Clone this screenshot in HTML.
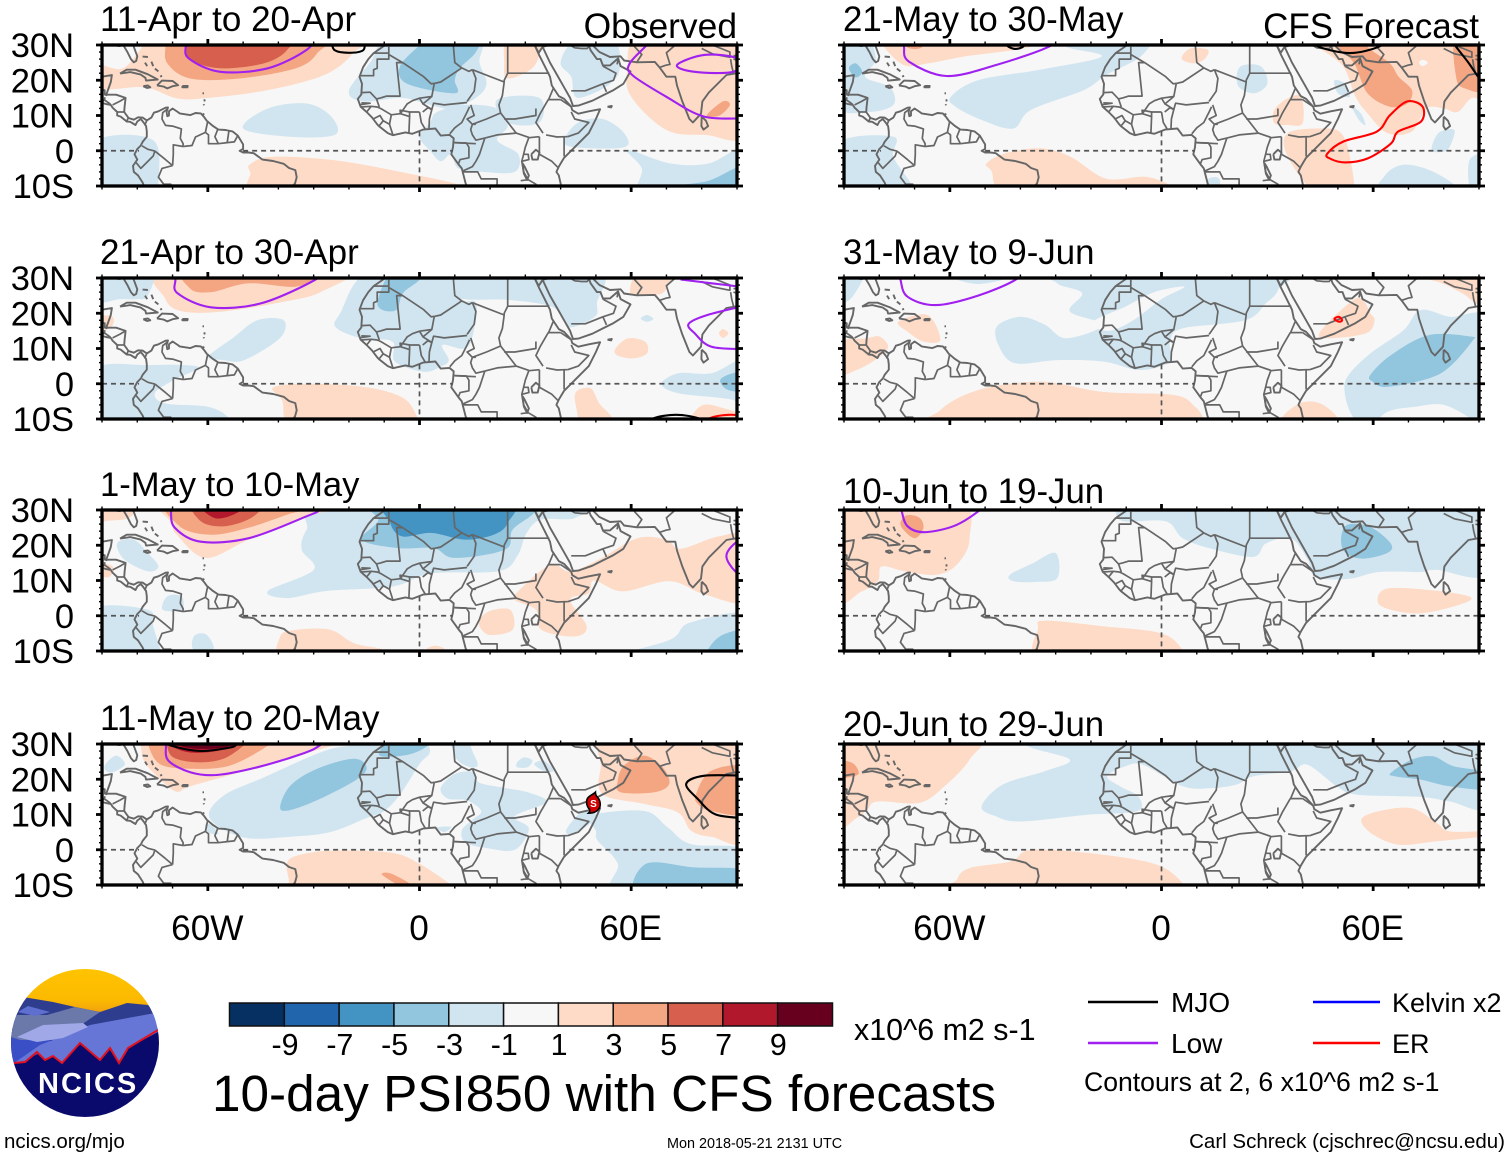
<!DOCTYPE html>
<html lang="en">
<head>
<meta charset="utf-8">
<title>10-day PSI850 with CFS forecasts</title>
<style>
html,body{margin:0;padding:0;background:#fff;}
svg{display:block;font-family:"Liberation Sans",sans-serif;}
text{fill:#000;}
</style>
</head>
<body>
<svg id="fig" xmlns="http://www.w3.org/2000/svg" width="1510" height="1158" viewBox="0 0 1510 1158">
  <rect width="1510" height="1158" fill="#fff"/>
  <g id="panels"></g>

  <g font-size="35">
    <text x="100" y="31">11-Apr to 20-Apr</text>
    <text x="100" y="264">21-Apr to 30-Apr</text>
    <text x="100" y="496" font-size="34.6">1-May to 10-May</text>
    <text x="100" y="730">11-May to 20-May</text>
    <text x="843" y="31" font-size="34.8">21-May to 30-May</text>
    <text x="843" y="264" font-size="34.8">31-May to 9-Jun</text>
    <text x="843" y="503" font-size="34.8">10-Jun to 19-Jun</text>
    <text x="843" y="736" font-size="34.8">20-Jun to 29-Jun</text>
    <text x="737" y="38" text-anchor="end" font-size="35.4">Observed</text>
    <text x="1479" y="38" text-anchor="end" font-size="35">CFS Forecast</text>
  </g>

  <g id="colorbar"></g>
  <text x="854" y="1040" font-size="30.4">x10^6 m2 s-1</text>
  <text x="212" y="1111" font-size="51.3">10-day PSI850 with CFS forecasts</text>

  <g>
    <line x1="1088" y1="1002" x2="1158" y2="1002" stroke="#000" stroke-width="2.6"/>
    <text x="1171" y="1012" font-size="28">MJO</text>
    <line x1="1313" y1="1002" x2="1380" y2="1002" stroke="#0000ff" stroke-width="2.6"/>
    <text x="1392" y="1012" font-size="27">Kelvin x2</text>
    <line x1="1088" y1="1043" x2="1158" y2="1043" stroke="#a020f0" stroke-width="2.6"/>
    <text x="1171" y="1053" font-size="28">Low</text>
    <line x1="1313" y1="1043" x2="1380" y2="1043" stroke="#ff0000" stroke-width="2.6"/>
    <text x="1392" y="1053" font-size="27">ER</text>
    <text x="1084" y="1091" font-size="26.6">Contours at 2, 6 x10^6 m2 s-1</text>
  </g>

  <g>
    <defs>
      <clipPath id="logoClip"><circle cx="85" cy="1043" r="74"/></clipPath>
      <linearGradient id="sunGrad" x1="0" y1="0" x2="0" y2="1">
        <stop offset="0" stop-color="#ffc400"/><stop offset="0.7" stop-color="#fbb900"/><stop offset="1" stop-color="#ef9f10"/>
      </linearGradient>
    </defs>
    <g clip-path="url(#logoClip)">
      <rect x="10" y="968" width="150" height="46" fill="url(#sunGrad)"/>
      <polygon fill="#2f3d8e" points="5,1030 23,997 53,1002 75,1007 100,1012 127,1003 148,1005 165,1020 90,1030 40,1030"/>
      <rect x="10" y="1028" width="150" height="92" fill="#0a0a6c"/>
      <polygon fill="#3a4ec6" points="8,1030 40,1035 60,1045 14,1064 8,1064"/>
      <polygon fill="#6a78aa" points="8,1036 15,1015 47,1015 75,1007 100,1012 81,1025 62,1040 20,1040"/>
      <polygon fill="#5f6fd0" points="18,1012 28,1006 50,1012 35,1016"/>
      <polygon fill="#6676d6" points="14,1063 40,1045 90,1025 155,1013 165,1030 158,1032 128,1048 119,1063 110,1048 100,1060 80,1043 62,1063 53,1056 45,1060 37,1052 25,1062"/>
      <polygon fill="#a0a8e8" points="17,1037 43,1025 83,1023 88,1027 63,1038 37,1042"/>
      <polyline fill="none" stroke="#e3101e" stroke-width="2" points="14,1063 25,1062 37,1052 45,1060 53,1056 62,1063 80,1043 100,1060 110,1048 119,1063 128,1048 158,1030"/>
    </g>
    <text x="38" y="1093" font-size="29" font-weight="bold" letter-spacing="2" style="fill:#fff">NCICS</text>
  </g>

  <text x="4" y="1148" font-size="20.5">ncics.org/mjo</text>
  <text x="667" y="1148" font-size="14.4">Mon 2018-05-21 2131 UTC</text>
  <text x="1505" y="1148" font-size="20.5" text-anchor="end">Carl Schreck (cjschrec@ncsu.edu)</text>
</svg>

<script>
/* ---------- colour scale ---------- */
const colorbarTicks = [-9,-7,-5,-3,-1,1,3,5,7,9];
const colorbarLevels = [-10,-8,-6,-4,-2,0,2,4,6,8,10];

/* ---------- shaded anomaly regions: [level, [[lon,lat],...]] ---------- */
const shadeApr11 = [
 [2,[[-78,33],[-78,30.5],[-84,23.4],[-91,24],[-91,17.7],[-78,18],[-69,14.9],[-61,14.9],[-43,17.2],[-27,21.5],[-19,27.6],[-18.5,33]]],
 [4,[[-72,33],[-72,30],[-71.5,24.8],[-65,20.5],[-51,20.5],[-35,23.4],[-29,27.7],[-28,33]]],
 [6,[[-66.7,33],[-66.7,30],[-65,25.8],[-56.5,23.4],[-44,24.8],[-37.5,28.6],[-37.5,33]]],
 [-2,[[-8,32],[-14,25],[-20,17],[-16,14],[-5,15],[3,13],[9,12],[16,15],[19,19],[17,25],[16,32]]],
 [-2,[[3,8],[0,4],[3,0],[6,-3],[9,-1],[11,-5],[18,-6],[27,-6],[28,-1],[22,3],[25,7],[22,12],[13,13],[5,11]]],
 [-2,[[22,14.5],[34,15],[34,8],[25,8]]],
 [-2,[[40,25],[44,31],[55,32],[56,21],[45,15],[43,21]]],
 [-2,[[41,3],[45,8],[52,9],[58,5],[58,1],[44,1]]],
 [-2,[[-50,6.3],[-43,12],[-32,13.4],[-25,9.7],[-24,4.5],[-37,4]]],
 [-2,[[-92,2.5],[-75.5,3],[-74,-10],[-74,-13],[-92,-13]]],
 [-2,[[59,0.2],[71,-3.6],[82,-3.6],[93,1],[93,-13],[64,-13],[63,-5]]],
 [-4,[[0.5,32],[0.5,30.5],[-5.5,24],[-3.5,19],[10,16.3],[10,20],[11.4,23.4],[16,28],[16,32]]],
 [-4,[[71,-10.5],[82,-8.5],[93,-4],[93,-13]]],
 [2,[[25,32],[34,32],[32.5,24],[25,20.5],[24,25]]],
 [2,[[63,32],[59,23],[60,15.3],[70,5.9],[81,4.5],[93,5],[93,32]]],
 [4,[[81.4,10],[86,14],[88,13],[85,10]]],
 [2,[[-47.7,-3.6],[-41.5,-1.7],[-24,-2.7],[-3.5,-6.4],[11.4,-9.8],[12,-13],[-43,-13],[-48,-6]]]
];
const shadeApr21 = [
 [2,[[-72,33],[-72,24],[-67,20.5],[-55.6,20.5],[-40,23],[-28,26],[-21,33]]],
 [4,[[-65,33],[-65,27],[-59,26],[-48.5,28.5],[-35.5,27.5],[-29.6,30],[-29,33]]],
 [2,[[-41.4,-1],[-31,0],[-15,-1],[-4.7,-4],[-0.6,-9.5],[0,-13],[-34,-13],[-39,-4.6]]],
 [2,[[44.4,-2.3],[48.5,-1.3],[51,-5.6],[54.4,-9.4],[54.4,-13],[46.7,-13],[44.4,-6.5]]],
 [2,[[77,-9.4],[80.5,-6],[86.4,-7],[93,-9.4],[93,-13],[76,-13]]],
 [2,[[55.6,10],[59.2,12.9],[64,11.9],[64.5,8.6],[60.4,7.2],[56,8.1]]],
 [2,[[59.8,25.7],[62.7,33],[71.6,33],[69.8,26.6],[66.3,25.2]]],
 [2,[[84.9,14.3],[86,15.5],[87.6,14.3],[86,13]]],
 [2,[[-92,19],[-87,19],[-87.5,16],[-92,15]]],
 [-2,[[-92,33],[-76,33],[-77,25],[-80,24],[-85,24],[-92,23.5]]],
 [-2,[[-59.8,7.7],[-53,12.9],[-46,18],[-38.5,18],[-39.6,12.9],[-49.7,6.7],[-55.6,6.7]]],
 [-2,[[-92,3.9],[-77,5.3],[-62.7,4.8],[-69.8,1],[-75,-2.7],[-72,-5.6],[-60,-6.5],[-54.4,-9.4],[-54.4,-13],[-92,-13]]],
 [-2,[[-14,32],[-22.5,20],[-23.7,16],[-16.6,12.9],[-7.7,12],[-7,6.3],[1.2,3.4],[5.9,4.8],[8.3,6.7],[6.5,11],[13,10],[15.4,15],[16,23],[11.8,23.8],[10.6,32]]],
 [-2,[[10,33],[10,24.7],[25,23.8],[36,22.3],[40,20],[42.6,16],[49.7,19],[50.3,22.8],[49.7,33]]],
 [-2,[[68.6,0],[73.4,3],[82.8,3],[93,6.7],[93,-8],[88.8,-4.6],[73.4,-2.7]]],
 [-2,[[62.7,18.5],[64.5,19.5],[66.3,18.4],[64.5,17.6]]],
 [-4,[[-7.7,32],[-11.8,23.8],[-10.6,21],[-6.5,21],[-4.7,25.7],[0,29.5],[1,33]]],
 [-4,[[85.2,1],[88.8,3],[93,3],[93,-1.8],[87.6,-1.8]]]
];
const shadeMay1 = [
 [-2,[[-25,33],[-32,24.4],[-33.4,18.8],[-30,13],[-43,7],[-37.5,5],[-26.6,7],[-7.6,8.3],[3.3,12],[22.3,12.6],[27.7,16.9],[30.4,23.5],[34.5,27.3],[44,27.7],[45,33]]],
 [-2,[[-85.7,20.6],[-81,21.6],[-77,17.8],[-74,14],[-77,12.6],[-83.7,16]]],
 [-2,[[-72.8,1.7],[-71.5,5.5],[-67.4,5.5],[-67.4,1.7]]],
 [-2,[[-92,2.2],[-77,1.7],[-75.5,-3],[-73,-13],[-78,-13],[-92,-8]]],
 [-2,[[-64,-5.9],[-61.2,-5],[-59.2,-6.8],[-58.6,-9.7],[-64,-9.7]]],
 [-2,[[53,-13],[71,-6.8],[76.6,-2],[93,0.3],[93,-13]]],
 [-4,[[82,-9.2],[86,-5.4],[93,-4.5],[93,-13],[81,-13]]],
 [-4,[[-12.4,33],[-11.7,27],[-16.4,21.6],[-6.2,19.2],[4,19.2],[10,16.4],[24.3,18.8],[26.4,24.4],[32.5,29.2],[33,33]]],
 [-6,[[-8.3,33],[-8.3,26.3],[-4.9,22.5],[3.3,23.5],[12.8,21.6],[21,23],[25,26.3],[25,33]]],
 [2,[[-71,33],[-70,26],[-68.8,23],[-60.6,16.4],[-48.4,21.6],[-32,28.2],[-25.3,30],[-24,33]]],
 [4,[[-70,33],[-68,25.4],[-59,23],[-48.4,25],[-37.5,28.7],[-33.4,30],[-33,33]]],
 [6,[[-64,33],[-62,26.8],[-55,25.4],[-47,28.2],[-45,33]]],
 [8,[[-63,33],[-58,27.7],[-51,29.6],[-50,33]]],
 [2,[[-92,33],[-80,33],[-82,28],[-88,27],[-92,27]]],
 [2,[[-92,15],[-87,14],[-88,11],[-92,12]]],
 [2,[[28.4,7.4],[37.2,14.5],[42.7,12.6],[50.8,15.9],[61.7,22],[70,21.6],[74,19],[84.8,22.5],[93,22],[93,4.5],[81,6],[71,9.8],[57.6,6.9],[49.5,10],[48,6.4],[42.7,4.5],[47.4,-3],[44,-5.9],[34.5,-4],[33,1.7],[27,4.5]]],
 [2,[[16.8,-2],[19.6,1.2],[25.7,1.7],[26.4,-4],[19.6,-5.4]]],
 [2,[[-39.5,-5.9],[-34.8,-4],[-25.3,-4],[-18.5,-7.8],[-10,-9.7],[-8,-13],[-37.5,-13]]],
 [2,[[2,-9.7],[4.6,-8.5],[7.3,-9.8],[5,-13]]]
];
const shadeMay11 = [
 [-2,[[-59.5,9],[-55.6,15.3],[-44.2,20.5],[-27,28],[-16.8,30],[-5,33],[0,33],[3,28],[0,24.3],[-5.4,15.8],[-10,11],[-15,9],[-25.3,5],[-36.6,3.7],[-50,3.5]]],
 [-2,[[8.8,33],[10.2,26.2],[14,23.5],[16.5,24],[15,28],[13,33]]],
 [-2,[[6,17.5],[10,21.5],[15.4,22],[17,19],[24.5,17.5],[31,16.2],[36,13.5],[27,9.5],[31,6],[27,0],[19,0.5],[13,2],[12,5.5],[15,8.5],[17.5,11],[13.5,14],[8,14.5]]],
 [-2,[[5,6.3],[9,6.5],[7,5]]],
 [-2,[[27.7,24.8],[29.7,26.2],[32,25.3],[30.6,23.4],[27.7,23.4]]],
 [-2,[[32.5,24.3],[35.3,25.3],[38,22.4],[35.3,22.4]]],
 [-2,[[41.5,5.4],[43.8,8.7],[46.7,11],[50,10],[47.6,6.8],[42.9,4.5]]],
 [-2,[[48.6,9.7],[63.7,11],[70.4,6.3],[77,1.6],[93,-0.3],[93,-13],[56.2,-13],[56.2,-4],[50.5,2.6],[50,5.4]]],
 [-4,[[62.8,-13],[64.2,-4],[78,-5],[93,-6],[93,-13]]],
 [-4,[[-39.5,11.8],[-36.6,18.2],[-29,23],[-18.7,25.8],[-15,23.4],[-17.7,20],[-27,15],[-35.7,11.5]]],
 [-4,[[-11.5,27],[-4,26.8],[2,29.3],[4,33],[-6,33]]],
 [-2,[[-89,24.3],[-86,26.7],[-83.5,24.3],[-86.8,22],[-89,22.5]]],
 [-2,[[-60.8,7.3],[-59,7],[-57,4.5],[-60,5]]],
 [2,[[-79,33],[-79,30],[-78,25],[-74,20.5],[-69,16.5],[-65,18],[-52.7,21.5],[-40.4,25.3],[-23.4,30],[-21.5,33]]],
 [4,[[-77,33],[-77,30],[-73.6,24.3],[-65,23],[-53.7,23.9],[-42.3,30],[-41,33]]],
 [6,[[-71.7,33],[-71.7,30],[-69.8,26.2],[-63,24.8],[-55.6,25.8],[-49.4,30],[-48,33]]],
 [8,[[-71,33],[-70.3,29.5],[-65,27.6],[-57.4,28],[-51.8,30],[-50,33]]],
 [10,[[-69,33],[-68,29.6],[-61.3,28.6],[-53.7,29.5],[-53,33]]],
 [2,[[-37.6,-4],[-34.8,-1.7],[-25.3,-0.3],[-8.2,-0.8],[0,-4],[9.5,-10.5],[9.5,-13],[-37,-13],[-37,-9]]],
 [4,[[-10.6,-7.1],[-8.2,-6.7],[-2.6,-9.8],[-5.4,-10.2]]],
 [2,[[54.3,33],[51.4,23.4],[51.9,15.8],[63.7,13],[73.2,10.6],[77,5.4],[82.7,3.7],[93,3.5],[93,33]]],
 [4,[[56.2,19.6],[58,23.9],[63.7,26.7],[68.9,23.4],[70.8,18.7],[66.6,16.3],[57,16.3]]],
 [4,[[78.4,15.8],[82.7,22.4],[93,23],[93,10.6],[82.7,11],[78.9,13]]]
];
const shadeMay21 = [
 [-2,[[-92,33],[-84,33],[-81,26],[-84,21],[-77,18],[-76,13],[-83,11],[-92,13]]],
 [-4,[[-88.6,23.4],[-86.7,24.8],[-84.8,22.4],[-86.7,20.8]]],
 [-2,[[-59.7,15.3],[-52,20],[-34.5,23],[-17,26.7],[-27,29.5],[-27,33],[-4.4,33],[-5.6,27],[-15.7,21.5],[-22,17.2],[-37,11.6],[-42,6.3],[-50.9,8.7],[-58.4,12.5]]],
 [-2,[[-92,2],[-76,4],[-76,-1.7],[-71,-9.3],[-70,-13],[-92,-13]]],
 [-2,[[21.4,22],[23.2,24.3],[28.3,23.9],[30,19],[26.4,16.3],[22,18]]],
 [-2,[[49,20],[52,19],[53.4,15.3],[50,16.3]]],
 [-2,[[54,12.5],[56,8.7],[57.8,7.3],[56.5,10.6]]],
 [-2,[[63.4,-6.9],[68.5,-4],[76,-5.5],[83.5,-10],[84,-13],[62,-13]]],
 [-2,[[76.6,0.2],[78.5,5],[83,5.9],[81.7,1.1],[79.8,-0.3]]],
 [-2,[[87.3,-2.7],[93,-1.7],[93,-13],[88,-13]]],
 [-2,[[13,-8.3],[16.3,-7.9],[16.3,-13],[13.2,-13]]],
 [2,[[-79,33],[-79,30],[-73,24.3],[-66,24.8],[-56,26.7],[-37,29.5],[-36,33]]],
 [4,[[-74,33],[-72,29.3],[-68,29.3],[-67,33]]],
 [2,[[5.7,26.2],[8.2,29],[13.2,28.6],[12,25.8],[8.8,24.8]]],
 [2,[[44,33],[44.6,29.5],[51.5,23.9],[55,15.3],[58.4,10.6],[64,5],[71,5.5],[75,12],[80,12],[84,11],[88,15],[93,15],[93,33]]],
 [2,[[32,11.6],[35.8,14.9],[39.6,15.3],[40,7.8],[35.8,7.3],[32,7.8]]],
 [2,[[35.8,5],[45.9,6.3],[50.9,5],[53.4,-1.7],[54,-13],[44.6,-13],[35.8,-1.7]]],
 [4,[[50,33],[50,29.5],[54.6,24.8],[58.4,16.3],[64.7,12.5],[69.7,13.4],[71,17.2],[67.2,21],[64.7,24.8],[58.4,29.5],[58,33]]],
 [4,[[83.5,21],[86,17.7],[93,17.7],[93,33],[83.5,33]]],
 [0,[[73,25],[74,25.8],[75.5,25],[74,24]]],
 [2,[[-49.6,-3.6],[-44.6,-0.8],[-34.5,0.7],[-25.8,-1.7],[-15.7,-7.9],[-4.4,-7.4],[3.1,-10.2],[4,-13],[-41,-13],[-48.4,-5.5]]]
];
const shadeMay31 = [
 [-2,[[-92,33],[-84,33],[-87.6,24.7],[-92,23.3]]],
 [-2,[[-60,31],[-52,28.3],[-41.4,31]]],
 [-2,[[-46.7,16.2],[-40,19],[-33,16.7],[-27,12.9],[-16.6,16.7],[-26,20.5],[-22.5,25.7],[-29.6,28.5],[-29,33],[33,33],[33,26.6],[29.6,22.8],[23.7,18],[6,15.7],[2.4,12],[2.4,6.3],[-6,3.9],[-16.6,6.3],[-29.6,6.7],[-41.4,5.8],[-46,10.5]]],
 [0,[[-19.5,17.5],[-10,22],[-2,26],[6.5,27.5],[0,24],[-8,18],[-15,15]]],
 [-2,[[52.7,2],[59.2,8.6],[68.6,15.2],[73.4,20.9],[81.7,19],[93,17.6],[93,-13],[88,-10],[80,-6],[72,-6.5],[64,-8],[58,-13],[54,-9],[52,-3]]],
 [-4,[[59.2,2.5],[65,8.1],[75.7,13.8],[87.6,13.4],[88,12],[81.7,4.8],[75.7,1.5],[64,-0.9],[59.8,0.6]]],
 [2,[[-92,11.5],[-83.5,12.9],[-80,13.4],[-77.5,10.5],[-80.5,7.2],[-86.4,3.9],[-92,2.7]]],
 [2,[[-74.6,17.6],[-66.3,19.5],[-62.7,12.4],[-67.5,12],[-72,14.8]]],
 [2,[[-62.7,-7.5],[-52,-1.8],[-34.3,0.6],[-16.6,-2.3],[3.6,-3.2],[9.5,-6.5],[11.8,-9.8],[12,-13],[-62.7,-13]]],
 [2,[[45,14.8],[54.4,23.8],[57.4,23.3],[59.2,20],[60.4,18],[58,14.3],[47.3,12.9]]],
 [2,[[34.3,-9.4],[39.6,-5.4],[45,-5.6],[49.7,-9.4],[50,-13],[34,-13]]],
 [2,[[67.5,31],[78,29],[85.2,25.7],[93,21],[93,33],[68,33]]]
];
const shadeJun10 = [
 [2,[[-92,33],[-58,33],[-54.4,22],[-58,14.5],[-64,11.6],[-72.8,12.6],[-79.3,14],[-80.4,9.8],[-85,6.9],[-92,5]]],
 [4,[[-74,26.3],[-72.2,28.5],[-68.6,27.8],[-67.5,24.9],[-69.8,22],[-72.8,24]]],
 [2,[[-35,-3.5],[-33,-1.4],[-16.6,-3],[0,-5],[6,-9.7],[7,-13],[-33,-13]]],
 [2,[[61.3,3.9],[63.9,7.7],[77,7.2],[87.6,5.3],[84,3],[73.4,0.7],[65,1.7]]],
 [-2,[[-43,11.6],[-36.7,14.8],[-30,17.8],[-29.5,10.7],[-35.5,9.6],[-42,9.8]]],
 [-2,[[-13,33],[-13,29.6],[-10.7,26.8],[1.2,26.8],[6,22],[14.2,19],[26,16.7],[29.6,20.5],[36.7,22],[41.4,16],[43.8,10.9],[53.3,10.5],[61.5,12.4],[73.4,12.4],[78,13],[93,12],[93,33]]],
 [-4,[[50.9,22],[52.7,25.8],[59,25.3],[65,20.5],[64,17.8],[56.8,16.2],[52,18]]]
];
const shadeJun20 = [
 [2,[[-92,33],[-52.7,33],[-54.4,25.6],[-61.5,18],[-68.6,13.3],[-80.5,13.7],[-83.4,11.4],[-86.4,9],[-92,7.6]]],
 [4,[[-92,25],[-87.6,24.6],[-85.8,21.8],[-87.6,20.8],[-92,20.5]]],
 [2,[[-58,-8.5],[-54.4,-5.2],[-42.6,-3.3],[-36.7,0],[-16.6,-1.4],[-1.2,-4.3],[6,-9.5],[7,-13],[-58,-13]]],
 [2,[[56.6,8.5],[61.5,10.9],[71,11.8],[78,7.6],[81.7,5.2],[93,5.2],[93,4],[78,2.4],[67.5,1.4],[60,4.3]]],
 [-2,[[-51,12.3],[-45,18.5],[-33,22.3],[-26,25.6],[-37.9,29.4],[-37,33],[93,33],[93,12.3],[81.7,13.7],[73.4,15],[55.6,15.6],[49.7,18],[41.4,24.1],[36.7,22.3],[26,20.8],[21.3,18.5],[14.2,17.5],[6,18],[-5.3,24.1],[-10.7,23.5],[-15.4,20.8],[-11.8,18],[-6.5,15],[-7,10.9],[-21.3,9.9],[-40,8],[-47,9.5]]],
 [-4,[[65,21.8],[71,25.6],[77,26.5],[82.8,23.7],[93,21.8],[93,17.2],[81.7,18],[73.4,19.9],[66.3,20.8]]]
];

/* ---------- wave / low contours: [type, closed(0|1), [[lon,lat],...]] ---------- */
const contourApr11 = [
 ['low',0,[[-66.5,33],[-66.3,30],[-65.4,26.2],[-56.5,22.4],[-43,23.4],[-32,28.6],[-29,33]]],
 ['low',0,[[66,33],[64.4,30],[59.6,24.8],[60.3,21.5],[70,15.3],[80.7,9.7],[93,9.2]]],
 ['low',1,[[73,24.3],[80.7,27.2],[90,26.2],[89,22.4],[78,22.4]]],
 ['mjo',0,[[-25,31],[-24,28.5],[-20,27.8],[-16,28.5],[-15.5,31]]]
];
const contourApr21 = [
 ['low',0,[[-69.5,33],[-69.2,29.6],[-68.6,25.7],[-59.2,21.7],[-45,22.8],[-29.6,29.5],[-27,33]]],
 ['low',0,[[74,29.6],[82.8,28.5],[93,27.3]]],
 ['low',0,[[93,22.3],[81.6,19.5],[76.3,17],[78,14.3],[82.8,10.5],[93,9.8]]],
 ['mjo',0,[[64,-12],[66.3,-9.8],[72.8,-8.8],[79.3,-9.9],[81,-12]]],
 ['er',0,[[80,-12],[82.2,-9.8],[87.6,-8.8],[93,-9.2]]]
];
const contourMay1 = [
 ['low',0,[[-71,33],[-70.5,30],[-69.4,25],[-62,21],[-48.4,22],[-32,28.2],[-28.3,30],[-26,33]]],
 ['low',0,[[93,22],[89.5,20.6],[87,16.9],[89.5,12.6],[93,11]]]
];
const contourMay11 = [
 ['low',0,[[-72,33],[-71.9,29.8],[-71.2,25.3],[-65,22],[-57.5,21.2],[-46,23.4],[-32.8,27.4],[-28,29.8],[-25,33]]],
 ['mjo',0,[[-72,31],[-70.3,29.5],[-62.2,28],[-53.7,29],[-51.8,30],[-50,32]]],
 ['mjo',0,[[93,21],[80.8,21],[75.6,18.7],[78.9,14.4],[84,10],[93,8.9]]]
];
const contourMay21 = [
 ['low',0,[[-73,33],[-73,29.5],[-71.6,25.3],[-61,21.2],[-47,24.3],[-32,29.5],[-29,33]]],
 ['er',1,[[47,-0.8],[51.5,2.6],[61,5.4],[64.7,10],[69.7,14],[74,12.5],[73.5,8.2],[67,5.4],[65,2],[58.4,-2.2],[52,-3.3],[47.7,-2.2]]],
 ['mjo',0,[[42,32],[44.6,29.5],[53.4,27.7],[61.6,29.5],[64,32]]],
 ['mjo',0,[[82,32],[83.5,29.5],[87,25],[90.5,20],[93,18]]],
 ['mjo',0,[[-45,31],[-43.3,29.5],[-41.4,28.9],[-39.3,29.5],[-38,31]]]
];
const contourMay31 = [
 ['low',0,[[-74.5,33],[-74,29.6],[-72,24.7],[-64,22.3],[-52,25],[-41.4,29.5],[-39,33]]],
 ['er',1,[[49,18.4],[50.3,19],[51.2,18],[50.3,17.6]]]
];
const contourJun10 = [
 ['low',0,[[-74,33],[-73.6,29.5],[-72,25.4],[-67.5,23.7],[-59,25.4],[-52,29.6],[-49,33]]]
];
const contourJun20 = [];

/* ---------- map linework in lon/lat ---------- */
const coastLines = [
 [[-91,29.3],[-89.5,30.3],[-85,29.7],[-84,30],[-82.8,28],[-81.8,26],[-81,25.1],[-80.3,25.5],[-80,26.8],[-81,29.5],[-81.4,31]],
 [[-91,18.7],[-90.5,20.9],[-87.2,21.5],[-87.5,19.5],[-88.2,17.5],[-88.8,15.9],[-86,15.9],[-83.3,15],[-83.6,12.5],[-83.7,11],[-82.5,9.3],[-81,8.8],[-79.8,9.5],[-78.5,9.4],[-77.3,8.6],[-76,9.4],[-75.3,10.8],[-74,11.2],[-72,12.2],[-71.3,12.3],[-71.7,11],[-71.5,9.8],[-71,10],[-71,11.2],[-70,12],[-68.5,11],[-68,10.6],[-65,10.1],[-63.5,10.7],[-62,10.6],[-61,9.5],[-60.3,8.5],[-58.5,7],[-57,6],[-55,5.9],[-53,5.5],[-51.5,4.3],[-50,1.8],[-50,0.5],[-51,0],[-50,-0.5],[-48.5,-0.5],[-47,-0.7],[-44.5,-2.5],[-41.5,-2.9],[-38.5,-3.7],[-37,-4.9],[-35.2,-5.5],[-34.8,-7.5],[-35.3,-9.3],[-37,-11.2]],
 [[-91,13.9],[-89,13.3],[-87.5,13],[-87,12.2],[-85.7,11],[-85.7,10],[-84.7,9.7],[-83,8.3],[-82,8.2],[-80.5,7.3],[-80,8.3],[-79,9],[-78.2,8],[-77.5,7],[-77.3,5.5],[-77.3,4],[-78.5,2.5],[-79,1.5],[-80,0.5],[-80.8,-1],[-80,-2.5],[-81.2,-4.3],[-81,-6],[-79.8,-7],[-78.5,-9],[-77.5,-11.5]],
 [[-84.9,21.9],[-83,23],[-80.5,23],[-77,21.7],[-74.2,20.2],[-77.5,19.9],[-77.7,20.7],[-79,21.6],[-82,22.3],[-84.9,21.9]],
 [[-74.4,18.5],[-73,19.9],[-70,19.8],[-68.4,18.6],[-70,18.3],[-71.5,17.7],[-72.5,18.2],[-74.4,18.5]],
 [[-78.3,18.3],[-77,18.5],[-76.3,18],[-77.2,17.8],[-78.3,18.3]],
 [[-67.2,18.4],[-65.7,18.4],[-65.8,18],[-67.2,18],[-67.2,18.4]],
 [[-78.5,26.7],[-77,26.6]],[[-77.8,25],[-77.2,24]],[[-76,25.3],[-75.5,24]],[[-75,23.3],[-74,22.5]],[[-73.5,21],[-73,21.3]],
 [[-61.5,16.3],[-61.1,16.3]],[[-61,14.6],[-60.9,14]],[[-61.2,13.2],[-61.1,12.9]],[[-61.5,10.5],[-61,10.2]],
 [[-9.8,31],[-9.7,30],[-13,27.7],[-14.5,26],[-16,23.7],[-17,21],[-16.3,19],[-16.5,16],[-17.5,14.7],[-16.7,12.5],[-15,11],[-13.5,9.5],[-12,7.5],[-11.5,7],[-9,5],[-7.5,4.4],[-4,5.2],[-2,4.8],[1,6],[4.5,6.3],[6,4.3],[8.5,4.5],[9.7,3.5],[9.5,1],[9,-1],[11,-3.8],[12,-5],[13,-9],[13.8,-11.5]],
 [[40.5,-11.5],[39.5,-7],[38.8,-6],[39.5,-4.5],[41,-2],[44,1],[48,5],[50,9],[51.2,11.8],[48,11.2],[45,10.5],[43.3,11.5],[43,12.5],[41,14.7],[39.5,15.5],[37.5,18.5],[37,21],[35.5,24],[34,27],[32.7,29.8],[32.5,31]],
 [[32.7,29.8],[33.8,27.8],[34.9,29.5],[37,25],[39,21.5],[41,18],[42.7,15],[43.5,12.7],[45,12.8],[49,14.2],[52,15.7],[55,17.2],[57.8,19],[59.8,22.5],[57,24],[56.3,26.2],[54,24.2],[52,24.2],[51.3,26],[50.3,26],[48.5,28.5],[48,30],[48.8,30.2],[51,28],[54,26.6],[57,26.8],[58,25.6],[61.5,25.1],[66.7,25.2],[68,23.7],[70,21],[72.5,21],[73,18.5],[74.5,14],[76.5,9],[77.5,8],[79.8,10.5],[80.2,14],[82,16.5],[85,19.5],[87,21.5],[90,22],[91.8,22],[92.5,20.5],[94,18]],
 [[80,9.7],[81.2,8.5],[81.8,7],[80.5,6],[79.9,7],[80,9.7]],
 [[53.3,12.5],[54.5,12.7],[54.3,12.3],[53.3,12.5]],
 [[31.7,-1],[33,0.3],[34,-0.5],[33.5,-2.5],[32,-2.5],[31.7,-1]],
 [[29.2,-3.5],[29.6,-6.5],[30.5,-8.3],[31,-7],[29.8,-4.5],[29.2,-3.5]]
];
const borderLines = [
 [[-91,17.2],[-89.2,17.2],[-89.2,15.9],[-88.5,15.7]],[[-89.3,14.4],[-90,14]],[[-89.2,15.2],[-89.3,14.4],[-87.6,13.2]],
 [[-83.3,15],[-85,14],[-87,13]],[[-83.7,11],[-85.7,11]],[[-82.5,9.5],[-83,8.3]],[[-77.3,8.6],[-77.9,7.2]],
 [[-71.3,12],[-72.8,10.8],[-73,9],[-72,7.2],[-70,7],[-67.5,6.2],[-67.8,3.5],[-67,2],[-67,1.2]],
 [[-67,1.2],[-69.8,1.7],[-69.8,-1],[-70,-4.2]],[[-70,-4.2],[-72,-2.5],[-75,-0.1]],[[-75,-0.1],[-77,0.4],[-78.7,1.4]],
 [[-75,-0.1],[-75.5,-1.5],[-78.5,-4.5],[-79,-5],[-80.3,-3.4]],
 [[-67,1.2],[-64.5,1.5],[-63.5,3.9],[-60.7,5.2]],[[-60.7,5.2],[-60,8.5]],[[-60.7,5.2],[-59.8,4.5],[-59.8,2],[-57,2]],
 [[-57.2,6],[-58,4],[-57,2]],[[-54,5.8],[-54.5,2.3]],[[-57,2],[-54.5,2.3],[-52.5,2.5],[-51.5,4.3]],
 [[-70,-4.2],[-73,-5],[-74,-7.5],[-72.5,-9.5],[-70.5,-9.5],[-70.5,-11.5]],[[-69.5,-11],[-66,-10],[-65.3,-11.5]],
 [[-13,27.7],[-8.7,27.7]],[[-8.7,27.7],[-8.7,26],[-12,26],[-12,23.4],[-13,23],[-13,21.3],[-17,21.3]],
 [[-8.7,27.3],[-4.8,25],[-6.5,25],[-5.5,15.5],[-9.3,15.5],[-11,15],[-12.2,14.7],[-14,16.6],[-16.3,16.5]],
 [[-8.7,29.5],[-8.7,27.7]],
 [[-4.8,25],[1.2,21],[3.3,19],[4.2,19.1]],[[4.2,19.1],[6,19.5],[12,23.5]],[[12,23.5],[14,22.5],[15,23]],[[15,23],[24,19.5]],
 [[9.5,31],[10,25],[12,23.5]],[[25,31],[25,22],[24,20],[24,19.5]],[[25,22],[36.8,22]],
 [[24,19.5],[23.5,15.7],[22.5,13],[23,10.7]],
 [[4.2,19.1],[3.5,15.4],[0,14.9],[-2,14.2],[-3.5,13.3],[-5.4,10.5]],
 [[3.5,15.4],[1,13.3],[3.5,11.7]],[[0,14.9],[1,13.3]],
 [[3.5,11.7],[4,13.5],[7,13],[13.5,13.7]],[[15,23],[16,20.5],[15.5,16.9],[13.5,14]],
 [[14.5,13],[15.5,10],[13.5,9],[15,7.5],[16,7.5]],[[8.6,4.8],[10,6.5],[12,8],[13.5,11],[14.2,12.5]],
 [[2.7,6.3],[2.8,9],[3.5,11.7],[2.4,12.2],[0.9,11]],[[1.6,6.2],[0.5,8],[0,11]],[[-3,5],[-2.8,9.7],[-2.8,11],[0,11]],
 [[-7.5,4.4],[-8.5,7.5],[-8,10.2],[-5.4,10.5],[-2.8,9.7]],[[-5.4,10.5],[-5.5,11.5],[-2.8,11]],
 [[-8,10.2],[-11,12],[-12,12.4],[-13.7,12.6],[-15,11]],[[-16.7,12.4],[-13.7,12.6]],[[-12.2,14.7],[-11.4,12.4]],
 [[-16.5,13.6],[-14,13.5],[-16.7,13.1]],
 [[-13,9.1],[-11.2,10],[-10.3,8.5],[-11.5,7]],[[-10.3,8.5],[-8.5,7.5]],
 [[15,7.5],[19,9],[23,10.7],[27.4,5],[22,4.5],[18.5,3.6],[16,3],[15,4.5],[14.5,6],[15,7.5]],
 [[24,9],[27,9],[33,10],[33,12]],[[36.5,14.3],[38,17.9]],[[36.5,14.5],[34.2,10.5],[33,8],[35,5]],[[40,14.5],[43,12.5]],[[36.5,14.5],[40,14.5]],
 [[35.9,4.5],[39,3.9],[41,4],[42,4]],[[42,4],[45,5],[48,8],[44,9],[43,11]],[[41,4],[41,-1.6]],
 [[34,4],[34,1],[34,-1]],[[34,-1],[37.5,-3],[39.2,-4.7]],
 [[18.5,3.6],[17,-1],[16,-3],[15,-4.5],[12.2,-5.8]],[[31,3.8],[30,1],[29.5,-1],[29,-3],[29.5,-6],[30.8,-8.2]],
 [[27.4,5],[31,3.8]],[[31,3.7],[34,4]],[[9.8,2.3],[13.3,2.2],[14,1],[14,-2],[11.5,-2.5],[11,-3.8]],[[9.8,2.3],[16,2]],
 [[12.2,-6],[16.5,-6],[17.5,-8],[22,-8],[22,-11.5]],[[28.7,-8.5],[30.8,-8.2],[33,-9.5],[34,-11.5]],[[22,-11],[24,-11],[25,-12]],
 [[29.5,-1],[30.8,-1],[31,-2.5],[29,-3]],
 [[43,17],[47,17],[52,19],[55,20],[55.7,22],[52,24]],[[52,19],[53,16.7]],
 [[61.5,25],[63,27.3],[61,29.5],[60.9,31]],[[68.2,23.7],[70,24.3],[71,24.5],[70,27.8],[72.5,30],[74,31]],
 [[80,29],[83,27.5],[88,26.5],[88,28],[83,30],[80,31]],[[89,27],[92,27],[92,28]],
 [[88.2,26],[88.5,24],[89,22]],[[89,26],[92,25],[91.5,23],[92.3,20.8]],[[92,25],[94,25],[97,28]],
 [[48.5,30],[47.5,29],[46,29],[44,29.2],[41,31]],[[35,29.5],[37,30],[38,31]],[[56.3,26],[56,24.5]]
];
const equatorOceanSegments = [[-90,-79.5],[-50,9.5],[42.5,90]];
const lonMajorTicks = [-60,0,60];
const lonTickStep = 10;
const latTickStep = 2;
const latMajorStep = 10;
const yTickLabels = ['30N','20N','10N','0','10S'];
const yTickValues = [30,20,10,0,-10];
const xTickLabels = ['60W','0','60E'];
const cycloneLon = 49.3;
const cycloneLat = 13.2;

/* ---------- panel layout ---------- */
const panelOrder = ['apr-11','apr-21','may-1','may-11','may-21','may-31','jun-10','jun-20'];
const panelShades = [shadeApr11,shadeApr21,shadeMay1,shadeMay11,shadeMay21,shadeMay31,shadeJun10,shadeJun20];
const panelContours = [contourApr11,contourApr21,contourMay1,contourMay11,contourMay21,contourMay31,contourJun10,contourJun20];

const NS = 'http://www.w3.org/2000/svg';
const PW = 635, PH = 141;
const panelLeft = [102,102,102,102,844,844,844,844];
const panelTop = [45,278,510,744,45,278,510,744];
const lonX = lon => (lon + 90) * PW / 180;
const latY = lat => (30 - lat) * PH / 40;

function levelColor(v){
  if (v >= 10) return '#67001f';
  if (v >= 8) return '#b2182b';
  if (v >= 6) return '#d6604d';
  if (v >= 4) return '#f4a582';
  if (v >= 2) return '#fddbc7';
  if (v >= 0) return '#f7f7f7';
  if (v >= -2) return '#d1e5f0';
  if (v >= -4) return '#92c5de';
  if (v >= -6) return '#4393c3';
  if (v >= -8) return '#2166ac';
  return '#053061';
}
const contourColor = {mjo:'#000000', low:'#a020f0', er:'#ff0000', kelvin:'#0000ff'};

function mk(tag, parent, attrs){
  const el = document.createElementNS(NS, tag);
  for (const k in attrs) el.setAttribute(k, attrs[k]);
  parent.appendChild(el);
  return el;
}
function smoothPath(pts, closed){
  const P = pts.map(p => [lonX(p[0]), latY(p[1])]);
  const n = P.length;
  const at = i => closed ? P[(i + n) % n] : P[Math.max(0, Math.min(n - 1, i))];
  let d = 'M' + P[0][0].toFixed(1) + ' ' + P[0][1].toFixed(1);
  const last = closed ? n : n - 1;
  for (let i = 0; i < last; i++){
    const p0 = at(i - 1), p1 = at(i), p2 = at(i + 1), p3 = at(i + 2);
    const c1x = p1[0] + (p2[0] - p0[0]) / 6, c1y = p1[1] + (p2[1] - p0[1]) / 6;
    const c2x = p2[0] - (p3[0] - p1[0]) / 6, c2y = p2[1] - (p3[1] - p1[1]) / 6;
    d += 'C' + c1x.toFixed(1) + ' ' + c1y.toFixed(1) + ' ' + c2x.toFixed(1) + ' ' + c2y.toFixed(1) + ' ' + p2[0].toFixed(1) + ' ' + p2[1].toFixed(1);
  }
  return closed ? d + 'Z' : d;
}
function polyPoints(line){
  return line.map(p => lonX(p[0]).toFixed(1) + ',' + latY(p[1]).toFixed(1)).join(' ');
}

const panelsRoot = document.getElementById('panels');
panelOrder.forEach(function(name, idx){
  const g = mk('g', panelsRoot, {transform:'translate(' + panelLeft[idx] + ' ' + panelTop[idx] + ')'});
  
  

  const cp = mk('clipPath', g, {id:'clip' + idx});
  mk('rect', cp, {x:0, y:0, width:PW, height:PH});

  const body = mk('g', g, {'clip-path':'url(#clip' + idx + ')'});
  
  
  const bg = mk('rect', body, {x:0, y:0, width:PW, height:PH, fill:'#f7f7f7'});
  
  

  panelShades[idx].forEach(function(s){
    const a = mk('path', body, {d:smoothPath(s[1], true), fill:levelColor(s[0])});
    
    
  });

  const map = mk('g', body, {fill:'none', stroke:'#666', 'stroke-width':1.9, 'stroke-linejoin':'round'});
  
  
  coastLines.forEach(function(l){
    const c = mk('polyline', map, {points:polyPoints(l)});
    
    
  });
  borderLines.forEach(function(l){
    const b = mk('polyline', map, {points:polyPoints(l), 'stroke-width':1.7});
    
    
  });

  equatorOceanSegments.forEach(function(seg){
    const e = mk('line', body, {x1:lonX(seg[0]), x2:lonX(seg[1]), y1:latY(0), y2:latY(0), stroke:'#555', 'stroke-width':1.7, 'stroke-dasharray':'5 4'});
    
    
  });
  const mer = mk('line', body, {x1:lonX(0), x2:lonX(0), y1:latY(5.5), y2:latY(-10), stroke:'#555', 'stroke-width':1.7, 'stroke-dasharray':'5 4'});
  
  

  panelContours[idx].forEach(function(c){
    const p = mk('path', body, {d:smoothPath(c[2], !!c[1]), fill:'none', stroke:contourColor[c[0]], 'stroke-width':2.1});
    
    
  });

  if (name === 'may-11'){
    const cy = mk('g', body, {transform:'translate(' + lonX(cycloneLon) + ' ' + latY(cycloneLat) + ')'});
    
    
    mk('path', cy, {d:'M2 -11C0 -9 -3 -8 -5 -6C-8 -3 -7 3 -4 6C-3 8 -4 9 -5 10C-1 10 3 9 5 6C8 3 7 -3 4 -6C3 -7 2 -9 2 -11Z', fill:'#d00000', stroke:'#000', 'stroke-width':1.6});
    const st = mk('text', cy, {x:0, y:3.6, 'font-size':10, 'font-weight':'bold', 'text-anchor':'middle', style:'fill:#fff'});
    st.textContent = 'S';
  }

  const axes = mk('g', g, {stroke:'#000', fill:'none'});
  
  
  mk('rect', axes, {x:0, y:0, width:PW, height:PH, 'stroke-width':3.3});
  for (let lon = -90; lon <= 90; lon += lonTickStep){
    const major = lonMajorTicks.indexOf(lon) >= 0;
    const len = major ? 6 : 3.5;
    const sw = major ? 2.8 : 1.4;
    mk('line', axes, {x1:lonX(lon), x2:lonX(lon), y1:0, y2:-len, 'stroke-width':sw});
    mk('line', axes, {x1:lonX(lon), x2:lonX(lon), y1:PH, y2:PH + len, 'stroke-width':sw});
  }
  for (let lat = -10; lat <= 30; lat += latTickStep){
    const major = lat % latMajorStep === 0;
    const len = major ? 6 : 3;
    const sw = major ? 2.8 : 1.4;
    mk('line', axes, {x1:0, x2:-len, y1:latY(lat), y2:latY(lat), 'stroke-width':sw});
    mk('line', axes, {x1:PW, x2:PW + len, y1:latY(lat), y2:latY(lat), 'stroke-width':sw});
  }

  if (idx < 4){
    yTickValues.forEach(function(v, i){
      const t = mk('text', g, {x:-28, y:latY(v) + 12, 'font-size':34.5, 'text-anchor':'end'});
      
      
      t.textContent = yTickLabels[i];
    });
  }
  if (idx === 3 || idx === 7){
    lonMajorTicks.forEach(function(v, i){
      const t = mk('text', g, {x:lonX(v) - 0.5, y:PH + 55, 'font-size':35.2, 'text-anchor':'middle'});
      
      
      t.textContent = xTickLabels[i];
    });
  }
});

/* ---------- colour bar ---------- */
const cbRoot = document.getElementById('colorbar');
const cbX = 229.5, cbY = 1003, cbW = 603, cbH = 23;
const cbStep = cbW / colorbarLevels.length;
colorbarLevels.forEach(function(v, i){
  const r = mk('rect', cbRoot, {x:cbX + i * cbStep, y:cbY, width:cbStep, height:cbH, fill:levelColor(v), stroke:'#111', 'stroke-width':1.5});
  
  
});
colorbarTicks.forEach(function(v, i){
  const t = mk('text', cbRoot, {x:cbX + (i + 1) * cbStep + 0.7, y:1055, 'font-size':30.4, 'text-anchor':'middle'});
  
  
  t.textContent = String(v);
});
</script>
</body>
</html>
